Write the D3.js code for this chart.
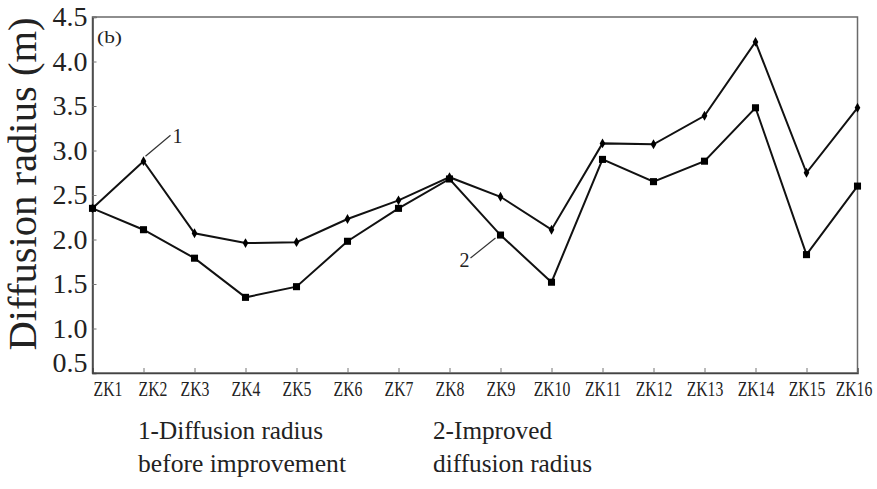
<!DOCTYPE html>
<html>
<head>
<meta charset="utf-8">
<script src="https://cdn.jsdelivr.net/npm/d3@7"></script>
<style>
  body { margin: 0; background: #fff; }
  svg text { font-family: "Liberation Serif", "Times New Roman", Tinos, "Nimbus Roman", Times, serif !important; }
</style>
</head>
<body>
<div id="vis"></div>
<script>
const sites = ["ZK1","ZK2","ZK3","ZK4","ZK5","ZK6","ZK7","ZK8","ZK9","ZK10","ZK11","ZK12","ZK13","ZK14","ZK15","ZK16"];
// 1 - diffusion radius before improvement (small diamond markers)
const beforeRadius = [2.35, 2.88, 2.07, 1.96, 1.97, 2.23, 2.44, 2.70, 2.48, 2.11, 3.08, 3.07, 3.39, 4.22, 2.75, 3.48];
// 2 - improved diffusion radius (square markers)
const improvedRadius = [2.35, 2.11, 1.79, 1.35, 1.47, 1.98, 2.35, 2.68, 2.05, 1.52, 2.90, 2.65, 2.88, 3.48, 1.83, 2.60];
const yTicks = [0.5, 1.0, 1.5, 2.0, 2.5, 3.0, 3.5, 4.0, 4.5];
const legendLines = [["1-Diffusion radius", "before improvement"], ["2-Improved", "diffusion radius"]];

const W = 877, H = 489;
const plot = {left: 92.5, right: 857.5, top: 17, bottom: 373};

const svg = d3.select("#vis").append("svg")
    .attr("width", W)
    .attr("height", H)
    .style("display", "block");

const x = d3.scalePoint()
    .domain(sites)
    .range([plot.left, plot.right]);

const y = d3.scaleLinear()
    .domain([0.5, 4.5])
    .range([plot.bottom, plot.top]);

// frame
svg.append("rect")
    .attr("x", plot.left)
    .attr("y", plot.top)
    .attr("width", plot.right - plot.left)
    .attr("height", plot.bottom - plot.top)
    .attr("fill", "none")
    .attr("stroke", "#6a6a6a")
    .attr("stroke-width", 1.5);

// y axis
const yAxis = svg.append("g")
    .attr("transform", `translate(${plot.left},0)`)
    .call(d3.axisLeft(y).tickValues(yTicks).tickSize(-4).tickPadding(5).tickFormat(d3.format(".1f")));
yAxis.select(".domain").attr("stroke", "#444").attr("stroke-width", 1.5);
yAxis.selectAll(".tick line").attr("stroke", "#777");
yAxis.selectAll(".tick text")
    .attr("font-size", 27)
    .attr("fill", "#222")
    .attr("textLength", 35)
    .attr("lengthAdjust", "spacingAndGlyphs");
yAxis.selectAll(".tick").filter(d => d === 0.5).select("text").attr("dy", "-0.05em");
yAxis.selectAll(".tick").filter(d => d === 0.5).select("line").remove();

// x axis, labels are narrow in the original so squeeze them horizontally
const xAxis = svg.append("g")
    .attr("transform", `translate(0,${plot.bottom})`)
    .call(d3.axisBottom(x).tickSize(-5).tickPadding(8));
xAxis.select(".domain").attr("stroke", "#444").attr("stroke-width", 1.5);
xAxis.selectAll(".tick line").attr("stroke", "#777");
xAxis.selectAll(".tick").filter((d, i) => i === 0).select("line").remove();
xAxis.selectAll(".tick text")
    .attr("font-size", 21)
    .attr("fill", "#222")
    .attr("transform", (d, i) => {
        const nudge = i === 0 ? 15 : i === 1 ? 9 : i === 15 ? -4 : 0;
        return `translate(${nudge},0) scale(0.75,1)`;
    });

// y title
svg.append("text")
    .attr("transform", `translate(36,${184}) rotate(-90)`)
    .attr("text-anchor", "middle")
    .attr("font-size", 40)
    .attr("fill", "#222")
    .attr("textLength", 333)
    .attr("lengthAdjust", "spacingAndGlyphs")
    .text("Diffusion radius (m)");

// panel label
svg.append("text")
    .attr("x", 97)
    .attr("y", 43)
    .attr("font-size", 17)
    .attr("fill", "#222")
    .attr("textLength", 25)
    .attr("lengthAdjust", "spacingAndGlyphs")
    .text("(b)");

const line = d3.line()
    .x((d, i) => x(sites[i]))
    .y(d => y(d));

svg.append("path")
    .datum(beforeRadius)
    .attr("d", line)
    .attr("fill", "none")
    .attr("stroke", "#111")
    .attr("stroke-width", 2);

svg.append("path")
    .datum(improvedRadius)
    .attr("d", line)
    .attr("fill", "none")
    .attr("stroke", "#111")
    .attr("stroke-width", 2);

svg.selectAll(".m1")
    .data(beforeRadius)
    .enter()
    .append("path")
    .attr("class", "m1")
    .attr("transform", (d, i) => `translate(${x(sites[i])},${y(d)})`)
    .attr("d", d3.symbol().type(d3.symbolDiamond).size(28))
    .attr("fill", "#000");

svg.selectAll(".m2")
    .data(improvedRadius)
    .enter()
    .append("path")
    .attr("class", "m2")
    .attr("transform", (d, i) => `translate(${x(sites[i])},${y(d)})`)
    .attr("d", d3.symbol().type(d3.symbolSquare).size(50))
    .attr("fill", "#000");

// leader labels
const p1 = [x(sites[1]), y(beforeRadius[1])];
svg.append("line")
    .attr("x1", p1[0] + 2).attr("y1", p1[1] - 5)
    .attr("x2", p1[0] + 27).attr("y2", p1[1] - 26)
    .attr("stroke", "#333").attr("stroke-width", 1.2);
svg.append("text")
    .attr("x", p1[0] + 29).attr("y", p1[1] - 18)
    .attr("font-size", 20).attr("fill", "#222")
    .text("1");

const p2 = [x(sites[8]), y(improvedRadius[8])];
svg.append("line")
    .attr("x1", p2[0] - 5).attr("y1", p2[1] + 3)
    .attr("x2", p2[0] - 30).attr("y2", p2[1] + 23)
    .attr("stroke", "#333").attr("stroke-width", 1.2);
svg.append("text")
    .attr("x", p2[0] - 31).attr("y", p2[1] + 32)
    .attr("text-anchor", "end")
    .attr("font-size", 20).attr("fill", "#222")
    .text("2");

// legend text below chart
const legendX = [138, 433];
const legendW = [[185, 208], [119, 159]];
legendLines.forEach((lines, k) => {
    lines.forEach((t, j) => {
        svg.append("text")
            .attr("x", legendX[k])
            .attr("y", 439 + j * 33)
            .attr("font-size", 25)
            .attr("fill", "#222")
            .attr("textLength", legendW[k][j])
            .attr("lengthAdjust", "spacingAndGlyphs")
            .text(t);
    });
});
</script>
</body>
</html>
